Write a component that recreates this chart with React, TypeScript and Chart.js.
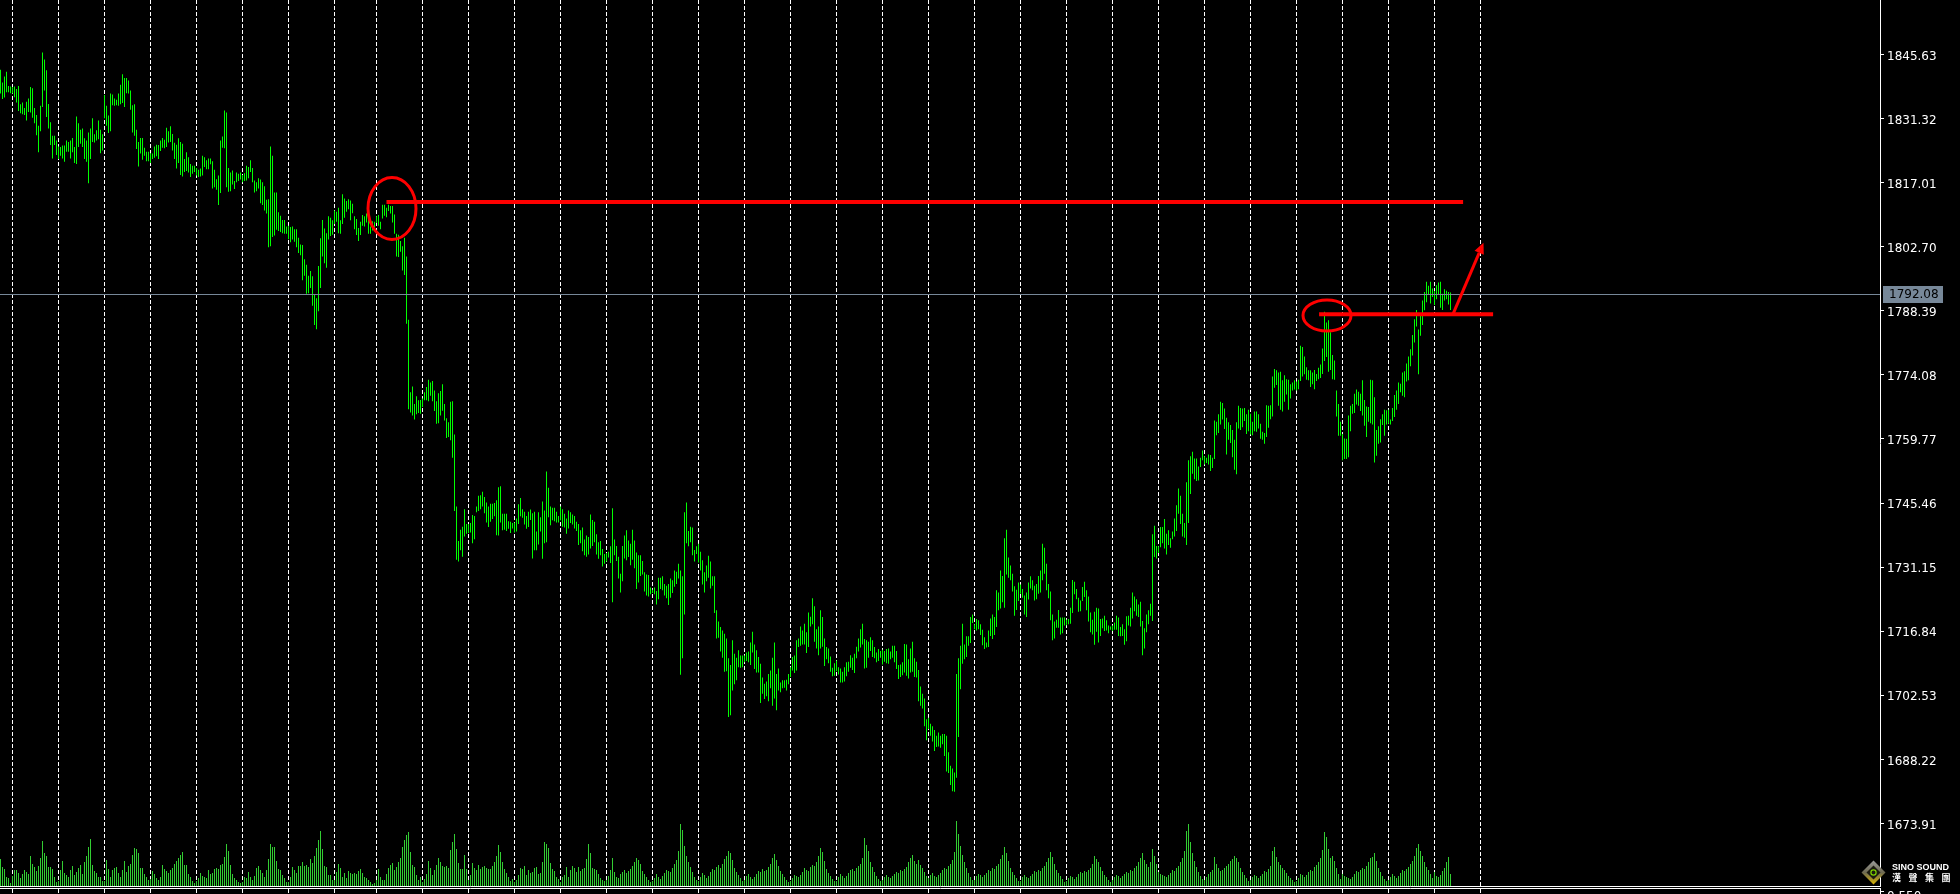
import React, { useEffect, useRef } from 'react';
import { Chart, registerables } from 'chart.js';

Chart.register(...registerables);

// ---- Data (hourly bars, oldest first) ----
const barHigh: number[] = [
  1842.2,1839.4,1840.7,1841.8,1838.6,1838.5,1838.4,1838.5,1837.9,1838.6,
  1834.5,1834.9,1833.7,1835.1,1835.8,1838.4,1838.1,1833.7,1832.1,1829.7,
  1834.2,1846.1,1844.5,1842.1,1834.6,1830.5,1827.5,1827.5,1826.4,1825.1,
  1825.0,1825.3,1825.3,1826.4,1826.1,1826.4,1827.0,1825.0,1831.8,1830.3,
  1828.8,1829.1,1826.9,1826.4,1828.2,1829.1,1831.4,1827.8,1828.7,1830.9,
  1828.8,1827.8,1836.6,1834.2,1832.0,1836.9,1836.7,1835.8,1835.5,1836.9,
  1838.9,1841.2,1840.4,1840.4,1839.8,1837.6,1834.3,1834.5,1828.8,1826.1,
  1827.0,1827.0,1824.8,1823.9,1823.9,1823.6,1823.5,1825.1,1825.5,1825.4,
  1826.4,1827.0,1826.6,1829.3,1828.5,1829.6,1827.9,1825.9,1825.5,1826.9,
  1826.1,1825.7,1822.3,1823.8,1822.7,1821.2,1820.8,1820.8,1820.3,1819.9,
  1820.2,1823.0,1822.7,1822.0,1822.4,1822.4,1821.8,1819.9,1817.8,1818.6,
  1826.4,1827.3,1833.1,1832.7,1820.3,1819.3,1819.7,1817.4,1819.3,1819.0,
  1819.3,1818.7,1819.1,1820.8,1820.5,
  1822.0,1820.3,1817.5,1817.1,1818.0,1817.7,1817.1,1816.2,1813.2,1813.3,
  1825.1,1823.0,1814.8,1814.8,1810.4,1809.6,1808.7,1808.7,1807.2,1807.4,
  1807.1,1807.2,1806.6,1806.6,1804.7,1803.2,1803.1,1799.9,1798.7,1796.2,
  1797.3,1796.1,1792.0,1791.2,1798.4,1804.6,1808.7,1806.8,1805.7,1809.5,
  1809.2,1808.6,1810.8,1810.5,1811.4,1808.6,1814.4,1813.5,1812.9,1813.3,
  1813.0,1812.3,1809.5,1808.9,1806.9,1808.3,1809.8,1809.5,1810.1,1809.0,
  1807.2,1808.4,1808.3,1809.5,1809.8,1808.3,1812.1,1812.1,1811.4,1812.1,
  1811.8,1811.8,1809.9,1805.6,1805.4,1804.0,1802.8,1804.7,1800.5,1786.4,
  1770.2,1771.5,1767.6,1769.3,1768.4,1768.5,1768.8,1770.2,1771.4,1773.0,
  1772.4,1772.7,1770.6,1768.2,1770.0,1770.5,1772.0,1767.6,1764.4,1763.5,
  1768.1,1768.2,1760.8,1744.7,1737.0,1739.5,1740.2,1744.1,1740.8,1740.8,
  1741.0,1742.8,1742.6,1744.7,1747.1,1747.2,1748.0,1746.8,1745.6,1744.7,
  1745.3,1745.3,1745.5,1746.1,1749.0,
  1749.2,1743.1,1743.1,1743.1,1741.4,1741.3,1741.0,1741.1,1742.0,1745.2,
  1746.6,1744.1,1743.5,1742.6,1743.5,1744.0,1743.2,1743.5,1739.1,1743.4,
  1742.3,1745.8,1743.8,1752.5,1748.9,1744.7,1744.4,1744.4,1743.5,1742.6,
  1744.7,1744.1,1743.1,1742.0,1743.8,1743.4,1742.9,1742.6,1741.3,1740.8,
  1739.4,1740.0,1737.3,1738.2,1737.9,1742.9,1741.7,1741.3,1738.5,1736.7,
  1737.0,1735.2,1734.1,1734.3,1734.6,1735.8,1744.3,1737.3,1735.9,1733.5,
  1729.7,1735.9,1738.2,1739.4,1737.1,1736.4,1739.5,1737.1,1734.4,1733.8,
  1733.8,1732.5,1730.0,1729.5,1729.4,1726.6,1726.1,1726.6,1725.8,1728.8,
  1728.8,1729.1,1727.4,1727.0,1727.4,1728.6,1728.2,1730.4,1730.1,1731.9,
  1730.4,1729.1,1743.4,1745.6,1739.2,1740.2,1740.0,1735.0,1735.8,1736.4,
  1734.6,1732.7,1730.0,1731.5,1733.7,1732.4,1729.1,1729.1,1721.5,1719.0,
  1717.8,1717.0,1716.3,1715.2,1710.8,1709.3,1714.8,1711.8,1710.9,1712.6,
  1711.4,1711.4,1711.4,1712.1,1712.3,
  1714.3,1716.7,1713.9,1712.6,1711.1,1709.6,1706.5,1705.1,1705.6,1707.3,
  1708.1,1710.9,1714.3,1707.3,1708.5,1705.4,1705.9,1705.9,1706.0,1707.3,
  1708.8,1711.1,1711.4,1714.8,1715.2,1717.9,1717.0,1718.5,1716.6,1721.0,
  1720.1,1724.2,1722.4,1717.3,1717.9,1721.5,1720.0,1715.2,1713.3,1713.0,
  1711.2,1708.7,1709.7,1710.3,1708.8,1708.5,1707.8,1708.8,1709.9,1710.0,
  1711.5,1710.9,1711.8,1713.4,1715.2,1717.3,1718.5,1715.1,1714.8,1714.5,
  1715.5,1714.8,1713.3,1712.1,1712.9,1712.4,1712.7,1712.4,1712.9,1713.0,
  1712.3,1713.6,1713.6,1712.4,1709.3,1709.4,1709.9,1714.0,1713.9,1710.6,
  1713.0,1714.5,1710.8,1710.0,1708.2,1704.5,1702.9,1701.8,1697.2,1697.5,
  1696.2,1695.6,1694.8,1693.5,1694.2,1693.5,1693.9,1693.9,1693.5,1689.8,
  1686.8,1686.2,1685.3,1707.3,1710.8,1713.6,1718.5,1713.9,1715.7,1715.7,
  1720.0,1720.6,1718.4,1719.6,1719.3,1718.4,1717.2,1715.5,1714.3,1717.0,
  1719.7,1720.6,1720.0,1726.0,1725.5,
  1730.4,1729.2,1737.6,1739.5,1733.3,1731.5,1729.7,1726.9,1726.1,1727.7,
  1727.3,1726.3,1724.8,1725.5,1727.7,1729.1,1728.2,1727.0,1727.4,1729.2,
  1730.4,1736.4,1735.5,1731.9,1727.4,1725.7,1720.6,1719.0,1719.4,1721.6,
  1719.9,1719.9,1719.9,1719.4,1719.6,1722.1,1728.3,1727.9,1726.3,1724.3,
  1723.7,1726.7,1727.9,1726.0,1724.6,1721.0,1719.4,1721.2,1722.1,1721.9,
  1719.6,1719.7,1720.3,1719.3,1718.1,1717.9,1718.1,1718.8,1720.3,1719.9,
  1717.8,1718.4,1717.3,1720.2,1720.3,1722.1,1725.5,1724.6,1724.0,1722.8,
  1723.4,1719.1,1717.5,1720.6,1721.5,1723.0,1738.5,1740.4,1735.9,1735.8,
  1740.1,1740.1,1741.9,1738.6,1739.4,1737.6,1739.1,1742.0,1745.0,1748.7,
  1747.1,1743.1,1741.0,1750.1,1755.0,1755.9,1756.9,1755.4,1755.4,1753.6,
  1755.6,1757.2,1755.9,1755.6,1756.3,1756.2,1755.6,1763.9,1763.6,1765.3,
  1768.1,1767.8,1766.6,1764.5,1763.5,1762.9,1761.8,1759.6,1763.5,1767.2,
  1766.7,1766.6,1766.7,1765.3,1766.3,
  1765.4,1763.6,1765.9,1765.9,1765.3,1763.2,1761.4,1761.1,1767.3,1767.2,
  1767.3,1773.7,1775.4,1775.1,1774.6,1774.8,1772.9,1774.0,1773.1,1773.0,
  1772.0,1772.4,1772.9,1772.6,1773.0,1780.6,1780.3,1778.2,1775.8,1775.1,
  1775.1,1774.6,1775.2,1774.3,1775.7,1776.4,1780.0,1788.2,1785.8,1786.3,
  1783.6,1778.5,1777.3,1770.6,1767.6,1763.6,1760.9,1759.9,1759.8,1765.0,
  1767.2,1767.6,1769.9,1770.8,1770.3,1769.9,1772.9,1768.5,1767.0,1766.9,
  1773.0,1772.9,1769.1,1761.8,1762.6,1764.2,1765.3,1766.3,1766.2,1766.3,
  1764.1,1766.7,1769.6,1770.6,1772.4,1772.1,1774.6,1774.9,1776.6,1778.2,
  1779.8,1783.0,1786.5,1788.6,1784.2,1787.4,1790.7,1792.6,1794.9,1794.0,
  1794.9,1793.4,1792.8,1794.1,1794.7,1794.9,1792.2,1793.2,1792.9,1792.6,
  1792.5,
];

const barLow: number[] = [
  1836.9,1835.7,1836.0,1837.2,1837.2,1837.0,1836.9,1836.1,1834.9,1833.0,
  1832.5,1832.3,1832.1,1830.9,1832.8,1832.7,1831.5,1830.3,1827.6,1823.8,
  1828.5,1833.9,1837.6,1831.7,1829.1,1825.4,1822.4,1825.4,1823.2,1822.3,
  1823.0,1822.4,1821.7,1823.9,1823.9,1822.4,1823.8,1821.4,1821.2,1825.0,
  1825.7,1825.0,1822.3,1821.7,1816.9,1822.3,1826.1,1826.0,1826.4,1826.7,
  1823.6,1824.2,1831.4,1829.7,1828.1,1828.5,1834.3,1834.2,1834.3,1834.2,
  1834.5,1834.8,1833.9,1837.0,1836.9,1833.3,1828.2,1827.5,1824.5,1820.6,
  1823.5,1822.1,1823.0,1821.8,1821.8,1821.4,1822.3,1822.6,1822.9,1822.3,
  1824.1,1824.8,1824.7,1825.0,1826.0,1826.1,1824.2,1822.3,1820.2,1821.4,
  1818.7,1818.4,1819.4,1819.6,1819.3,1818.3,1819.0,1819.4,1818.6,1818.3,
  1818.4,1818.6,1820.5,1820.0,1820.0,1821.1,1815.7,1816.0,1815.4,1812.0,
  1814.7,1824.8,1824.7,1816.0,1815.0,1815.1,1816.6,1815.6,1817.1,1817.4,
  1817.7,1817.1,1817.4,1817.5,1818.0,
  1819.4,1817.1,1814.8,1815.1,1815.7,1812.4,1812.0,1810.8,1810.1,1802.6,
  1802.8,1804.9,1805.2,1806.5,1806.2,1806.0,1805.7,1805.6,1805.6,1804.4,
  1803.7,1804.3,1803.8,1802.6,1801.3,1800.8,1795.2,1796.2,1792.2,1792.3,
  1793.5,1789.5,1785.2,1784.3,1788.3,1793.5,1800.5,1799.0,1798.0,1804.3,
  1805.1,1805.4,1807.8,1808.3,1805.7,1805.6,1807.8,1809.2,1810.5,1811.1,
  1808.6,1810.2,1806.6,1805.3,1804.0,1805.3,1807.4,1807.2,1808.1,1805.6,
  1805.6,1806.3,1807.1,1808.0,1807.4,1806.6,1809.0,1809.6,1809.3,1810.7,
  1810.1,1808.1,1805.6,1800.5,1800.4,1801.6,1797.4,1796.4,1785.5,1766.4,
  1765.7,1765.0,1764.1,1765.3,1765.6,1765.4,1766.9,1768.4,1768.4,1768.2,
  1769.4,1768.2,1766.0,1763.2,1763.3,1765.0,1766.1,1763.9,1760.0,1760.2,
  1759.5,1755.6,1743.7,1732.8,1732.4,1734.9,1733.5,1738.0,1738.6,1738.8,
  1738.9,1736.5,1737.4,1743.4,1743.7,1744.1,1744.7,1743.2,1741.1,1740.1,
  1741.3,1741.9,1742.5,1738.3,1738.2,
  1741.1,1739.4,1739.5,1739.2,1739.7,1738.8,1739.8,1738.9,1739.1,1740.8,
  1742.5,1742.2,1740.7,1739.7,1740.1,1741.7,1733.1,1734.9,1734.9,1736.2,
  1739.1,1733.0,1736.5,1736.7,1742.3,1740.5,1741.6,1741.4,1741.1,1741.1,
  1741.6,1740.2,1740.0,1738.6,1739.8,1741.0,1740.7,1739.8,1739.2,1736.1,
  1736.5,1734.7,1733.8,1733.5,1734.0,1735.3,1735.9,1736.7,1734.0,1733.0,
  1733.8,1731.3,1731.9,1732.4,1733.3,1732.1,1723.3,1733.8,1732.5,1728.6,
  1725.5,1728.0,1733.1,1732.7,1733.4,1731.6,1732.8,1730.9,1726.3,1727.7,
  1729.2,1729.5,1725.7,1724.8,1724.6,1725.1,1725.4,1725.1,1722.8,1724.0,
  1726.3,1726.0,1724.8,1724.2,1722.7,1724.3,1725.4,1726.8,1727.4,1728.6,
  1707.1,1710.8,1720.6,1736.5,1735.8,1736.7,1733.8,1732.4,1734.1,1732.2,
  1730.4,1727.3,1725.5,1728.0,1728.8,1726.4,1727.0,1720.9,1715.2,1715.4,
  1712.3,1710.9,1707.8,1707.9,1697.7,1698.1,1703.6,1705.0,1705.9,1708.8,
  1708.7,1708.8,1709.9,1710.2,1709.9,
  1709.3,1712.1,1708.4,1707.6,1707.6,1700.8,1702.9,1701.7,1702.3,1701.2,
  1704.1,1700.2,1701.8,1699.2,1703.6,1703.2,1704.1,1704.2,1703.6,1705.0,
  1706.6,1708.1,1707.5,1708.1,1713.3,1713.6,1713.9,1713.9,1712.0,1713.3,
  1717.9,1718.4,1714.5,1713.0,1711.5,1713.0,1713.4,1709.1,1710.6,1709.7,
  1707.8,1706.8,1706.9,1707.9,1707.2,1705.4,1705.4,1705.6,1706.8,1707.8,
  1708.7,1708.2,1707.5,1710.8,1712.3,1713.2,1713.9,1708.5,1708.7,1710.9,
  1712.4,1711.1,1710.8,1709.9,1710.2,1710.9,1709.4,1710.0,1709.7,1709.6,
  1710.6,1710.9,1709.9,1708.4,1706.2,1706.6,1707.0,1707.6,1706.9,1706.3,
  1707.6,1707.8,1706.6,1706.5,1701.2,1700.2,1699.6,1695.6,1692.5,1695.0,
  1693.5,1692.2,1690.1,1691.0,1691.1,1690.8,1691.6,1689.0,1685.5,1685.2,
  1682.5,1681.1,1681.0,1684.1,1693.2,1703.9,1709.6,1710.6,1711.1,1713.6,
  1714.2,1718.7,1717.3,1717.0,1717.3,1716.0,1713.7,1712.9,1713.2,1713.3,
  1715.8,1715.1,1716.0,1717.8,1721.5,
  1721.9,1723.3,1722.1,1729.5,1728.8,1728.2,1725.7,1720.3,1721.6,1723.6,
  1725.2,1724.3,1720.6,1720.0,1723.9,1726.4,1726.0,1723.7,1724.0,1725.2,
  1725.5,1728.2,1729.7,1726.0,1724.2,1719.3,1714.8,1715.2,1717.6,1717.6,
  1716.1,1716.4,1718.1,1718.2,1718.4,1718.5,1720.9,1725.1,1724.0,1721.2,
  1721.3,1723.6,1724.5,1721.5,1719.0,1716.6,1716.1,1713.8,1716.7,1714.3,
  1715.8,1717.5,1716.9,1717.0,1716.4,1717.2,1716.9,1717.2,1717.2,1715.8,
  1715.7,1715.8,1713.8,1714.6,1718.1,1717.9,1719.7,1721.3,1720.3,1720.0,
  1717.9,1711.5,1713.0,1716.6,1718.4,1720.3,1719.1,1733.4,1733.1,1734.3,
  1735.6,1736.5,1735.3,1734.0,1736.1,1735.5,1737.4,1738.0,1739.2,1743.1,
  1740.8,1738.0,1737.7,1736.1,1741.0,1747.5,1752.0,1750.8,1750.4,1750.5,
  1753.5,1755.0,1754.1,1754.4,1754.1,1752.6,1753.3,1755.3,1760.6,1761.1,
  1763.0,1764.1,1762.0,1756.3,1759.6,1758.9,1755.7,1752.9,1751.9,1762.1,
  1761.8,1762.4,1763.8,1760.9,1761.5,
  1760.8,1760.6,1761.5,1761.4,1762.1,1759.8,1759.6,1758.7,1760.2,1762.3,
  1764.2,1764.8,1771.2,1771.8,1767.2,1766.3,1765.9,1768.1,1769.7,1766.3,
  1768.8,1770.6,1770.8,1770.6,1770.9,1772.7,1773.7,1774.2,1773.0,1772.9,
  1771.4,1772.0,1770.9,1772.7,1773.1,1773.4,1774.3,1777.2,1778.1,1774.8,
  1775.2,1773.1,1773.0,1764.8,1760.5,1760.5,1755.0,1755.3,1755.3,1755.7,
  1761.5,1765.4,1765.6,1767.5,1767.2,1766.0,1765.0,1762.7,1760.2,1763.6,
  1763.3,1763.0,1754.5,1756.0,1758.7,1759.0,1762.9,1760.5,1763.0,1763.2,
  1763.0,1763.8,1764.7,1766.3,1767.6,1770.2,1769.4,1769.1,1772.6,1772.9,
  1776.0,1778.4,1781.3,1784.9,1774.2,1782.8,1785.2,1788.5,1790.3,1791.9,
  1790.0,1791.5,1789.7,1791.0,1791.9,1789.1,1788.6,1790.7,1791.0,1789.8,
  1788.6,
];

// tick volume per bar, grouped by trading day
const tickVolume: number[] = [
  2700,1900,1700,900,800,300,
  1000,1600,1600,1300,800,1200,1600,1400,1200,3000,2200,1900,1500,2000,2800,4500,3300,3000,1900,1900,1700,900,400,
  500,1600,2500,1300,1100,900,1600,2000,1100,1400,1800,2100,1200,2400,3000,3900,4700,2100,1500,1300,900,900,500,
  500,2600,1700,900,1600,1800,1900,1300,900,1600,2500,1400,2000,2200,3100,3800,3700,3300,1800,1800,1200,900,600,
  700,1500,1200,800,600,900,2100,1700,1500,1300,1600,1800,2200,2500,2800,3100,3400,2100,2100,1200,900,500,300,
  500,800,1300,1000,900,800,1600,1200,1300,1700,1800,1700,2100,2200,2900,4200,3500,2100,1200,800,600,400,300,
  400,900,800,1400,900,600,1000,1800,2000,1600,1300,900,1600,2700,4200,3900,3900,2500,1700,1600,1100,800,400,
  400,900,1900,1600,1300,2000,2000,2400,2000,2100,1900,2700,2300,3000,3800,4600,5500,3700,2000,1900,1100,1100,600,
  600,1400,2200,1800,900,1300,800,1500,1300,1200,1300,1200,1500,1700,1300,900,800,600,400,200,300,
  600,1700,900,600,600,1200,1800,2100,2300,1600,1900,2400,2800,3900,4600,5100,5400,3400,2100,1900,1100,600,900,
  400,700,1200,2500,1800,1100,1600,2100,2800,2400,2000,1900,2000,1800,3600,4400,5200,3700,2300,1700,1700,3100,1700,
  600,1100,2300,1800,1600,2100,1700,1900,2000,1800,1700,1700,2000,2400,3000,4100,3400,2400,1700,1300,900,500,700,
  400,600,1100,1800,1700,2000,1100,1600,1300,1400,1800,1900,1200,1300,2400,4400,4200,3800,2300,1700,1500,900,700,
  400,900,1100,1900,900,1600,2000,1800,1400,1900,1500,1700,1800,2700,4200,3300,1800,1700,1600,1200,800,600,500,
  600,1000,1600,2800,1400,900,800,1200,1400,1600,1300,1500,1700,2000,2400,2800,2600,2200,1500,1200,900,600,400,
  500,800,1200,900,700,1000,1300,1600,1500,1400,1800,2200,2600,3500,6200,5600,4000,3000,2400,1900,1400,900,600,
  500,900,1300,1100,800,1000,1400,1700,1600,1900,2100,1800,2200,2700,3000,3500,3300,2600,1800,1400,1100,800,500,
  600,1000,1200,900,700,900,1200,1500,1400,1700,1500,1600,1900,2200,2800,3200,2600,2000,1500,1200,900,600,400,
  500,800,1100,1000,900,1100,1400,1800,1600,1500,1900,2100,2000,2400,3000,3800,3400,2500,1700,1300,1000,700,500,
  500,900,1200,1000,800,1000,1300,1600,1700,1500,1800,2000,2200,2800,4800,4100,3500,2400,1900,1400,1000,700,500,
  600,900,1100,900,800,1000,1200,1400,1300,1600,1500,1700,1900,2400,2800,3100,2500,2200,2600,2100,1800,1400,1000,
  800,1100,1300,1000,900,1100,1300,1600,1800,1700,2000,2200,2600,3400,6500,5200,4000,3100,2400,1800,1300,900,600,
  600,1000,1200,1100,900,1100,1300,1600,1500,1800,1700,2000,2200,2700,3100,3900,3300,2500,1800,1400,1100,800,500,
  500,900,1100,900,800,1000,1200,1500,1400,1600,1500,1800,2000,2400,2800,3400,2900,2200,1600,1300,1000,700,400,
  500,800,1000,900,700,900,1200,1400,1300,1500,1400,1600,1800,2200,3000,2700,2400,1900,1500,1100,900,600,400,
  600,900,1100,1000,800,1000,1200,1400,1300,1600,1500,1800,2000,2400,2800,3300,2600,2200,1900,2400,3700,3000,2200,
  1400,1200,1100,1000,900,1100,1300,1600,1500,1800,2000,2400,2800,3500,5500,6200,4400,3300,2500,1900,1400,1000,700,
  600,900,1200,1400,1600,2900,2200,1800,1500,1600,1800,2000,2200,2500,2700,3000,2800,2400,1800,1400,1100,800,500,
  600,900,1100,1000,800,1000,1200,1500,1400,1700,2000,3500,3900,2900,2400,2100,1800,1600,1300,1000,800,600,400,
  500,800,1200,1100,900,1100,1400,1600,1500,1900,2100,2400,2800,3600,5400,4900,3700,2800,3000,2500,1800,1200,700,
  1200,1000,900,800,700,900,1200,1500,1400,1600,1800,1700,2000,2400,2800,2900,3300,2500,1800,1400,1000,700,500,
  600,900,1200,1000,800,1000,1300,1600,1500,1700,1900,2200,2500,3000,3800,4200,3500,3000,2400,1900,1600,1200,800,
  1400,1000,900,1100,1500,1800,2400,2900,1200,
];

const priceTicks: number[] = [
  1845.63, 1831.32, 1817.01, 1802.70, 1788.39, 1774.08, 1759.77,
  1745.46, 1731.15, 1716.84, 1702.53, 1688.22, 1673.91,
];

// bar indices where the day separators (vertical grid) fall
const separatorBars: number[] = [
  6, 29, 52, 75, 98, 121, 144, 167, 188, 211, 234, 257, 280, 303, 326, 349, 372,
  395, 418, 441, 464, 487, 510, 533, 556, 579, 602, 625, 648, 671, 694, 717, 740,
];

const bidPrice = 1792.08;
const subWindowLabel = '0.550';

// hand-drawn red marks (bar index / price)
const redLevels = [
  { from: 193, to: 731.3, price: 1812.7 },
  { from: 659.3, to: 746.3, price: 1787.6 },
];
const redEllipses = [
  { bar: 195.75, price: 1811.24, rx: 24, ry: 31 },
  { bar: 663.25, price: 1787.35, rx: 24, ry: 15.5 },
];
const redArrow = { fromBar: 726.2, fromPrice: 1787.6, toBar: 741.5, toPrice: 1803.6 };

const Y_MAX = 1857.8;
const Y_MIN = 1659.95;
const X_MIN = -0.25;
const X_MAX = 939.75;
const VOL_MAX = 88600;
const GRID_DASH = [4, 2];

const FONT = 'DejaVu Sans';

const overlayPlugin = {
  id: 'mt4Overlay',
  afterDatasetsDraw(chart: any) {
    const { ctx, chartArea, scales } = chart;
    const xs = scales.x;
    const ys = scales.y;
    ctx.save();
    // bid line
    const by = Math.round(ys.getPixelForValue(bidPrice)) + 0.5;
    ctx.strokeStyle = '#778899';
    ctx.lineWidth = 1;
    ctx.beginPath();
    ctx.moveTo(chartArea.left, by);
    ctx.lineTo(chartArea.right, by);
    ctx.stroke();

    // red levels
    ctx.strokeStyle = '#ff0000';
    ctx.fillStyle = '#ff0000';
    ctx.lineWidth = 4;
    for (const l of redLevels) {
      const y = ys.getPixelForValue(l.price);
      ctx.beginPath();
      ctx.moveTo(xs.getPixelForValue(l.from), y);
      ctx.lineTo(xs.getPixelForValue(l.to), y);
      ctx.stroke();
    }
    ctx.lineWidth = 3;
    for (const e of redEllipses) {
      ctx.beginPath();
      ctx.ellipse(xs.getPixelForValue(e.bar), ys.getPixelForValue(e.price), e.rx, e.ry, 0, 0, Math.PI * 2);
      ctx.stroke();
    }
    // arrow
    const x1 = xs.getPixelForValue(redArrow.fromBar);
    const y1 = ys.getPixelForValue(redArrow.fromPrice);
    const x2 = xs.getPixelForValue(redArrow.toBar);
    const y2 = ys.getPixelForValue(redArrow.toPrice);
    const ang = Math.atan2(y2 - y1, x2 - x1);
    const head = 11;
    const hw = 5;
    const bx = x2 - Math.cos(ang) * head;
    const byy = y2 - Math.sin(ang) * head;
    ctx.lineWidth = 3;
    ctx.beginPath();
    ctx.moveTo(x1, y1);
    ctx.lineTo(bx, byy);
    ctx.stroke();
    ctx.beginPath();
    ctx.moveTo(x2, y2);
    ctx.lineTo(bx + Math.sin(ang) * hw, byy - Math.cos(ang) * hw);
    ctx.lineTo(bx - Math.sin(ang) * hw, byy + Math.cos(ang) * hw);
    ctx.closePath();
    ctx.fill();
    ctx.restore();
  },
  afterDraw(chart: any) {
    const { ctx, chartArea, scales } = chart;
    const ys = scales.y;
    const xs = scales.x;
    ctx.save();
    // bid price box
    const by = Math.round(ys.getPixelForValue(bidPrice));
    const bx = chartArea.right + 3;
    ctx.fillStyle = '#778899';
    ctx.fillRect(bx, by - 8, 60, 17);
    ctx.fillStyle = '#000000';
    ctx.font = `12px "${FONT}"`;
    ctx.textBaseline = 'middle';
    ctx.textAlign = 'left';
    ctx.fillText(bidPrice.toFixed(2), bx + 6, by + 1);

    // window separator (double line)
    ctx.strokeStyle = '#ffffff';
    ctx.lineWidth = 1;
    const b = chartArea.bottom;
    ctx.beginPath();
    ctx.moveTo(0, b + 0.5);
    ctx.lineTo(chartArea.right + 1, b + 0.5);
    ctx.moveTo(0, b + 2.5);
    ctx.lineTo(chartArea.right + 1, b + 2.5);
    ctx.moveTo(chartArea.right + 0.5, b + 2.5);
    ctx.lineTo(chartArea.right + 0.5, 894);
    ctx.moveTo(chartArea.right, b + 5.5);
    ctx.lineTo(chartArea.right + 4, b + 5.5);
    ctx.stroke();
    // separators continue in the sub-window
    ctx.setLineDash(GRID_DASH);
    ctx.beginPath();
    for (const s of separatorBars) {
      const x = Math.round(xs.getPixelForValue(s) - 0.5) + 0.5;
      if (x > chartArea.right) continue;
      ctx.moveTo(x, b + 3);
      ctx.lineTo(x, 894);
    }
    ctx.stroke();
    ctx.setLineDash([]);
    ctx.fillStyle = '#ffffff';
    ctx.textBaseline = 'alphabetic';
    ctx.fillText(subWindowLabel, chartArea.right + 7, b + 14);

    // logo
    const cx = 1873.5;
    const cy = 872.5;
    const r = 12;
    ctx.beginPath();
    ctx.moveTo(cx, cy - r);
    ctx.lineTo(cx + r, cy);
    ctx.lineTo(cx, cy + r);
    ctx.lineTo(cx - r, cy);
    ctx.closePath();
    const g = ctx.createLinearGradient(cx, cy - r, cx, cy + r);
    g.addColorStop(0, '#9a9a9a');
    g.addColorStop(0.5, '#6e6a52');
    g.addColorStop(1, '#d8b400');
    ctx.fillStyle = g;
    ctx.fill();
    const r2 = 7;
    ctx.beginPath();
    ctx.moveTo(cx, cy - r2);
    ctx.lineTo(cx + r2, cy);
    ctx.lineTo(cx, cy + r2);
    ctx.lineTo(cx - r2, cy);
    ctx.closePath();
    ctx.fillStyle = '#1a1a10';
    ctx.fill();
    ctx.beginPath();
    ctx.arc(cx, cy, 2.6, 0, Math.PI * 2);
    ctx.strokeStyle = '#7fd400';
    ctx.lineWidth = 1.2;
    ctx.stroke();
    ctx.fillStyle = '#ffffff';
    ctx.font = `bold 9px "Liberation Sans"`;
    ctx.fillText('SINO SOUND', 1892, 870);
    ctx.font = `bold 9px "Noto Sans CJK TC"`;
    const cjk = ['漢', '聲', '集', '團'];
    cjk.forEach((c, k) => ctx.fillText(c, 1892 + k * 16.5, 881));
    ctx.restore();
  },
};

export default function App() {
  const ref = useRef<HTMLCanvasElement | null>(null);

  useEffect(() => {
    document.body.style.margin = '0';
    document.body.style.background = '#000000';
    const canvas = ref.current;
    if (!canvas) return;
    Chart.defaults.font.family = FONT;

    const priceData = barHigh.map((h, i) => ({ x: i, y: [barLow[i], h] }));
    const volData = tickVolume.map((v, i) => ({ x: i, y: v }));

    const chart = new Chart(canvas, {
      type: 'bar',
      data: {
        datasets: [
          {
            label: 'Price',
            data: priceData as any,
            yAxisID: 'y',
            backgroundColor: '#00ff00',
            barThickness: 1,
            grouped: false,
            borderWidth: 0,
            inflateAmount: 0,
          } as any,
          {
            label: 'Volume',
            data: volData as any,
            yAxisID: 'yv',
            backgroundColor: '#32cd32',
            barThickness: 1,
            grouped: false,
            borderWidth: 0,
            inflateAmount: 0,
          } as any,
        ],
      },
      options: {
        responsive: false,
        animation: false,
        devicePixelRatio: 1,
        events: [],
        layout: { padding: { left: 0, top: 0, right: 0, bottom: 8 } },
        plugins: {
          legend: { display: false },
          tooltip: { enabled: false },
          title: { display: false },
        },
        scales: {
          x: {
            type: 'linear',
            min: X_MIN,
            max: X_MAX,
            offset: false,
            display: true,
            afterBuildTicks: (s: any) => {
              s.ticks = separatorBars.map((v) => ({ value: v }));
            },
            afterFit: (s: any) => {
              s.height = 0;
              s.paddingLeft = 0;
              s.paddingRight = 0;
              s.paddingTop = 0;
              s.paddingBottom = 0;
            },
            ticks: { display: false },
            grid: {
              display: true,
              offset: false,
              drawTicks: false,
              drawOnChartArea: true,
              color: '#ffffff',
              lineWidth: 1,
              borderDash: GRID_DASH,
            } as any,
            border: { display: false, dash: GRID_DASH },
          },
          y: {
            type: 'linear',
            position: 'right',
            min: Y_MIN,
            max: Y_MAX,
            afterBuildTicks: (s: any) => {
              s.ticks = priceTicks.map((v) => ({ value: v }));
            },
            afterFit: (s: any) => {
              s.width = 80;
              s.paddingTop = 0;
              s.paddingBottom = 0;
              s.paddingLeft = 0;
              s.paddingRight = 0;
            },
            ticks: {
              color: '#ffffff',
              font: { family: FONT, size: 12 },
              padding: 3,
              labelOffset: 2,
              autoSkip: false,
              callback: (v: any) => Number(v).toFixed(2),
            },
            grid: {
              display: true,
              offset: false,
              drawOnChartArea: false,
              drawTicks: true,
              tickLength: 4,
              tickColor: '#ffffff',
              tickWidth: 1,
            },
            border: { display: true, color: '#ffffff', width: 1 },
          },
          yv: {
            type: 'linear',
            display: false,
            min: 0,
            max: VOL_MAX,
          },
        },
      } as any,
      plugins: [overlayPlugin],
    });
    return () => chart.destroy();
  }, []);

  return (
    <canvas
      ref={ref}
      width={1960}
      height={894}
      style={{ display: 'block', width: 1960, height: 894, background: '#000000' }}
    />
  );
}
